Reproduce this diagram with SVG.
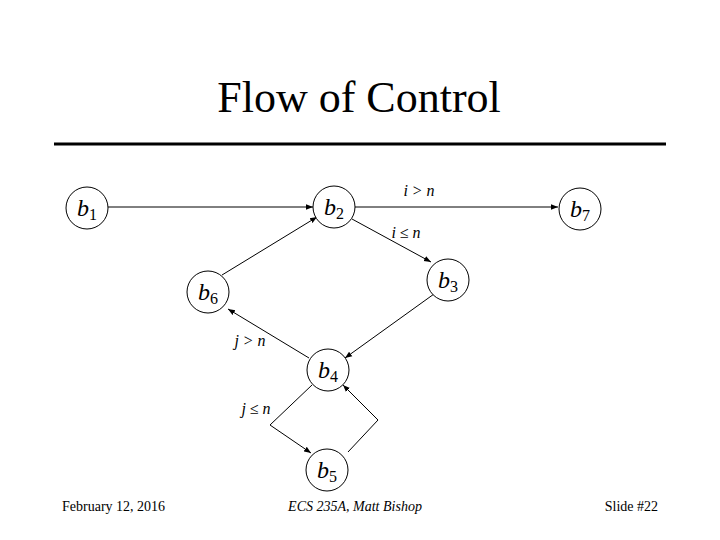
<svg xmlns="http://www.w3.org/2000/svg" width="720" height="540" viewBox="0 0 720 540" font-family="'Liberation Serif', 'Times New Roman', serif">
<style>
.n{fill:#fff;stroke:#000;stroke-width:1}
.lbl{font-style:italic;font-size:24px}
.sub{font-size:16px;font-style:normal}
.e{fill:none;stroke:#000;stroke-width:1;marker-end:url(#ah)}
.el{font-style:italic;font-size:16px}
</style>
<defs>
<marker id="ah" viewBox="0 0 10 10" refX="10" refY="5" markerWidth="7" markerHeight="7" markerUnits="userSpaceOnUse" orient="auto">
<path d="M0,1 L10,5 L0,9 Z" fill="#000"/>
</marker>
</defs>
<rect width="720" height="540" fill="#fff"/>
<text x="359" y="112" font-size="44" text-anchor="middle">Flow of Control</text>
<line x1="54" y1="144" x2="666" y2="144" stroke="#000" stroke-width="3"/>
<g id="connectors">
<line class="e" x1="108" y1="207" x2="313" y2="207"/>
<line class="e" x1="355" y1="207" x2="558" y2="207"/>
<line class="e" x1="352" y1="219" x2="431" y2="262"/>
<line class="e" x1="434" y1="294" x2="345" y2="358"/>
<line class="e" x1="309" y1="358" x2="228" y2="309"/>
<line class="e" x1="222" y1="275" x2="317" y2="217"/>
<polyline class="e" points="312,385 270,425 311,453"/>
<polyline class="e" points="348,452 378,420 343,385"/>
<text class="el" x="419" y="196" text-anchor="middle">i &gt; n</text>
<text class="el" x="406" y="238" text-anchor="middle">i ≤ n</text>
<text class="el" x="250" y="346" text-anchor="middle">j &gt; n</text>
<text class="el" x="256" y="414" text-anchor="middle">j ≤ n</text>
</g>
<g id="b1"><circle class="n" cx="87" cy="208" r="21"/><text class="lbl" x="77" y="216">b<tspan class="sub" dy="4">1</tspan></text></g>
<g id="b2"><circle class="n" cx="334" cy="207" r="21"/><text class="lbl" x="324" y="215">b<tspan class="sub" dy="4">2</tspan></text></g>
<g id="b7"><circle class="n" cx="580" cy="209" r="21"/><text class="lbl" x="570" y="217">b<tspan class="sub" dy="4">7</tspan></text></g>
<g id="b3"><circle class="n" cx="448" cy="280" r="21"/><text class="lbl" x="438" y="288">b<tspan class="sub" dy="4">3</tspan></text></g>
<g id="b6"><circle class="n" cx="208" cy="292" r="21"/><text class="lbl" x="198" y="300">b<tspan class="sub" dy="4">6</tspan></text></g>
<g id="b4"><circle class="n" cx="328" cy="370" r="21"/><text class="lbl" x="318" y="378">b<tspan class="sub" dy="4">4</tspan></text></g>
<g id="b5"><circle class="n" cx="327" cy="470" r="21"/><text class="lbl" x="317" y="478">b<tspan class="sub" dy="4">5</tspan></text></g>
<text x="62" y="511" font-size="14">February 12, 2016</text>
<text x="355" y="511" font-size="14" font-style="italic" text-anchor="middle">ECS 235A, Matt Bishop</text>
<text x="658" y="511" font-size="14" text-anchor="end">Slide #22</text>
</svg>
